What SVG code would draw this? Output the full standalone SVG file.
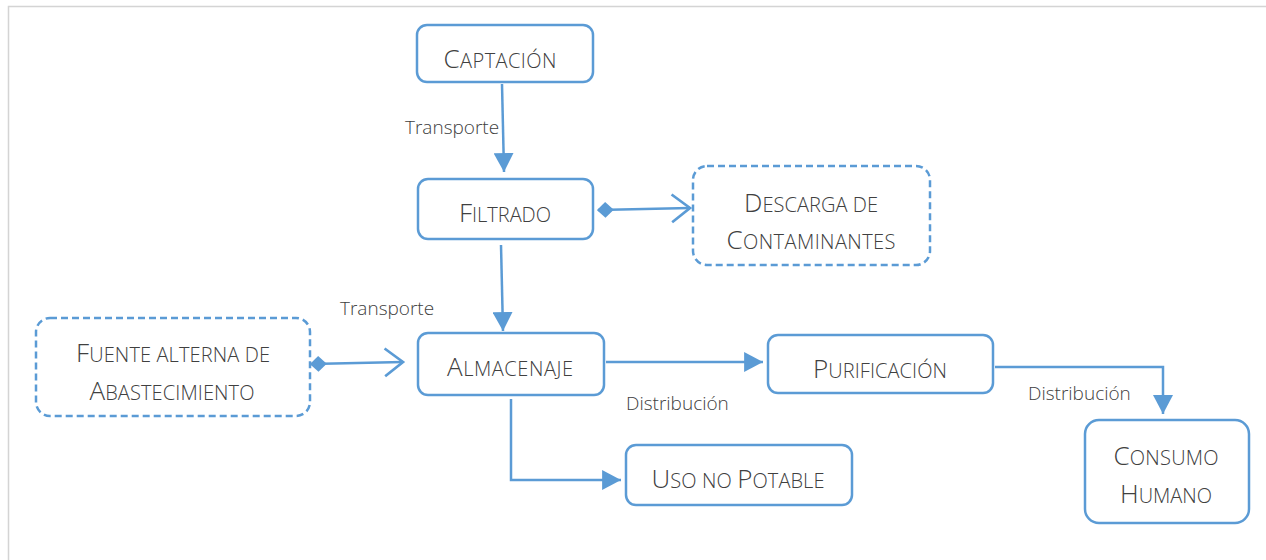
<svg xmlns="http://www.w3.org/2000/svg" width="1266" height="560" viewBox="0 0 1266 560">
<style>
.box{fill:#fff;stroke:#5B9BD5;stroke-width:2.5}
.dash{stroke-dasharray:7 4}
.t{font-family:"Open Sans","Liberation Sans",sans-serif;font-weight:300;fill:#404040;text-anchor:middle;font-size:20px}
.t .c{font-size:26px}
.lbl{font-family:"Open Sans","Liberation Sans",sans-serif;font-weight:300;fill:#404040;font-size:19px}
.ln{fill:none;stroke:#5B9BD5;stroke-width:2.5}
</style>
<defs>
<marker id="tri" markerUnits="userSpaceOnUse" markerWidth="20" markerHeight="20" viewBox="0 0 18 18" refX="17" refY="9" orient="auto">
<path d="M0,0 L17,9 L0,18 Z" fill="#5B9BD5"/>
</marker>
<marker id="open" markerUnits="userSpaceOnUse" markerWidth="22" markerHeight="32" viewBox="0 0 20 30" refX="18" refY="15" orient="auto">
<path d="M1,2 L18,15 L1,28" fill="none" stroke="#5B9BD5" stroke-width="2.5"/>
</marker>
<marker id="dia" markerUnits="userSpaceOnUse" markerWidth="18" markerHeight="18" viewBox="0 0 16 16" refX="1" refY="8" orient="auto">
<path d="M0,8 L7.5,1 L15,8 L7.5,15 Z" fill="#5B9BD5"/>
</marker>
</defs>
<rect width="1266" height="560" fill="#fff"/>
<path d="M8.5,560 V6.5 H1266" fill="none" stroke="#d4d4d4" stroke-width="1.5"/>
<g id="connectors">
<path class="ln" d="M502,84 L504,172" marker-end="url(#tri)"/>
<path class="ln" d="M501,245 L503,331" marker-end="url(#tri)"/>
<path class="ln" d="M598,210 L690,208" marker-start="url(#dia)" marker-end="url(#open)"/>
<path class="ln" d="M311,364 L403,362" marker-start="url(#dia)" marker-end="url(#open)"/>
<path class="ln" d="M606,362 L763,362" marker-end="url(#tri)"/>
<path class="ln" d="M995,367 H1163 V414" marker-end="url(#tri)"/>
<path class="ln" d="M511,399 V480 H621" marker-end="url(#tri)"/>
<text class="lbl" x="405" y="134">Transporte</text>
<text class="lbl" x="340" y="315">Transporte</text>
<text class="lbl" x="626" y="410">Distribución</text>
<text class="lbl" x="1028" y="400">Distribución</text>
</g>
<g id="captacion">
<rect class="box" x="417" y="25" width="176" height="57" rx="10"/>
<text class="t" x="500" y="68" textLength="113" lengthAdjust="spacing"><tspan class="c">C</tspan>APTACIÓN</text>
</g>
<g id="filtrado">
<rect class="box" x="418" y="179" width="175" height="60" rx="10"/>
<text class="t" x="505" y="222" textLength="92" lengthAdjust="spacing"><tspan class="c">F</tspan>ILTRADO</text>
</g>
<g id="descarga">
<rect class="box dash" x="693" y="166" width="237" height="99" rx="14"/>
<text class="t" x="811" y="212" textLength="134" lengthAdjust="spacing"><tspan class="c">D</tspan>ESCARGA DE</text>
<text class="t" x="811" y="249" textLength="169" lengthAdjust="spacing"><tspan class="c">C</tspan>ONTAMINANTES</text>
</g>
<g id="fuente">
<rect class="box dash" x="36" y="318" width="274" height="98" rx="14"/>
<text class="t" x="173" y="362" textLength="194" lengthAdjust="spacing"><tspan class="c">F</tspan>UENTE ALTERNA DE</text>
<text class="t" x="172" y="400" textLength="165" lengthAdjust="spacing"><tspan class="c">A</tspan>BASTECIMIENTO</text>
</g>
<g id="almacenaje">
<rect class="box" x="418" y="333" width="186" height="62" rx="10"/>
<text class="t" x="510" y="376" textLength="126" lengthAdjust="spacing"><tspan class="c">A</tspan>LMACENAJE</text>
</g>
<g id="purificacion">
<rect class="box" x="768" y="335" width="225" height="58" rx="10"/>
<text class="t" x="880" y="378" textLength="134" lengthAdjust="spacing"><tspan class="c">P</tspan>URIFICACIÓN</text>
</g>
<g id="uso">
<rect class="box" x="626" y="445" width="226" height="60" rx="10"/>
<text class="t" x="738" y="488" textLength="173" lengthAdjust="spacing"><tspan class="c">U</tspan>SO NO <tspan class="c">P</tspan>OTABLE</text>
</g>
<g id="consumo">
<rect class="box" x="1085" y="420" width="164" height="103" rx="14"/>
<text class="t" x="1166" y="465" textLength="105" lengthAdjust="spacing"><tspan class="c">C</tspan>ONSUMO</text>
<text class="t" x="1166" y="503" textLength="92" lengthAdjust="spacing"><tspan class="c">H</tspan>UMANO</text>
</g>
</svg>
